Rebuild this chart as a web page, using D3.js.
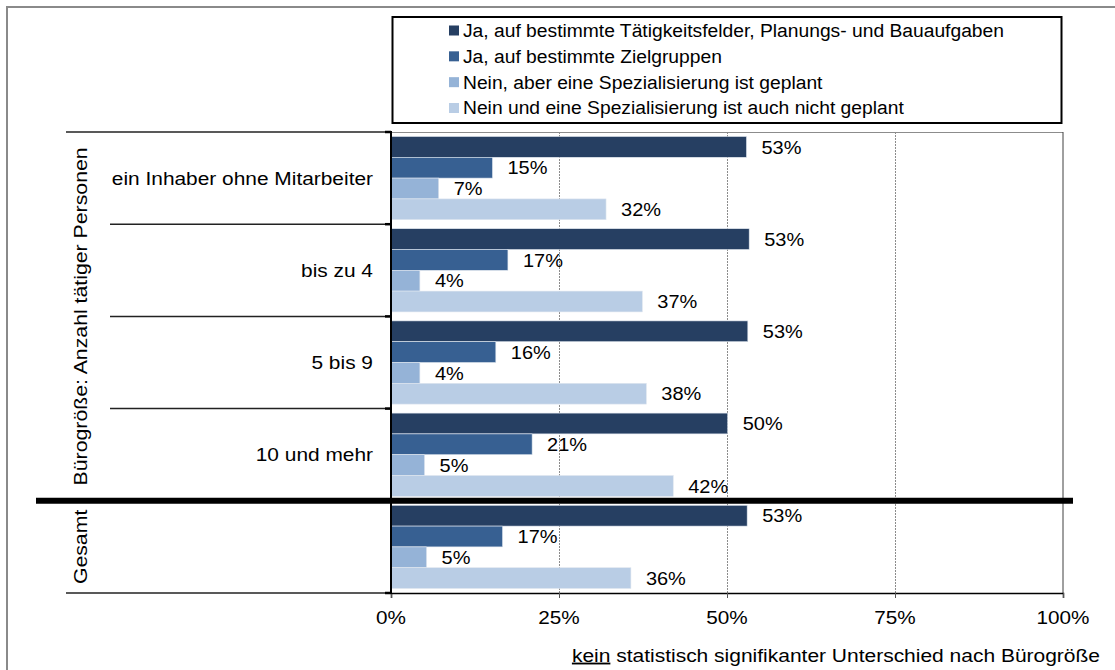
<!DOCTYPE html>
<html><head><meta charset="utf-8">
<script src="https://cdn.jsdelivr.net/npm/d3@7"></script>
<style>
html,body{margin:0;padding:0;background:#fff;}
svg text{font-family:Arial,"Liberation Sans",sans-serif;fill:#000;}
</style></head>
<body>
<svg id="c" width="1115" height="670"></svg>
<script>
const categories = ["ein Inhaber ohne Mitarbeiter", "bis zu 4", "5 bis 9", "10 und mehr", "Gesamt"];
const categoryLabels = ["ein Inhaber ohne Mitarbeiter", "bis zu 4", "5 bis 9", "10 und mehr", ""];
const seriesNames = [
  "Ja, auf bestimmte Tätigkeitsfelder, Planungs- und Bauaufgaben",
  "Ja, auf bestimmte Zielgruppen",
  "Nein, aber eine Spezialisierung ist geplant",
  "Nein und eine Spezialisierung ist auch nicht geplant"
];
const seriesColors = ["#263f62", "#376092", "#95b3d7", "#b9cde5"];
const s1 = [0.529, 0.533, 0.531, 0.501, 0.530];
const s2 = [0.151, 0.174, 0.156, 0.210, 0.166];
const s3 = [0.071, 0.043, 0.043, 0.050, 0.053];
const s4 = [0.320, 0.374, 0.380, 0.420, 0.357];
const seriesValues = [s1, s2, s3, s4];
const xTicks = [0, 0.25, 0.5, 0.75, 1];
const groupTitles = [
  {label: "Bürogröße: Anzahl tätiger Personen", from: 0, to: 3},
  {label: "Gesamt", from: 4, to: 4}
];
const footnoteUnderlined = "kein";
const footnoteRest = " statistisch signifikanter Unterschied nach Bürogröße";

const svg = d3.select("#c");
const L = 391, R = 1063, T = 132, B = 593;
const x = d3.scaleLinear().domain([0, 1]).range([L, R]);
const y = d3.scaleBand().domain(categories).range([T, B]).paddingInner(0).paddingOuter(0);
const bw = y.bandwidth();
const ys = d3.scaleBand().domain(d3.range(4)).range([4.5, bw - 4.5]).padding(0);
const fmt = d3.format(".0%");

// place a horizontally stretched text at (px,py)
function stext(g, px, py, sx, size, anchor, rot) {
  return g.append("text")
    .attr("transform", `translate(${px},${py})${rot ? ` rotate(${rot})` : ""} scale(${sx},1)`)
    .attr("font-size", size).attr("text-anchor", anchor || "start").attr("dy", "0.36em");
}

// outer frame
svg.append("path").attr("d", `M7,670 V7 H1115`).attr("fill", "none").attr("stroke", "#8a8a8a").attr("stroke-width", 2);

// plot area border (top, right)
svg.append("line").attr("x1", L).attr("x2", R).attr("y1", T + 0.5).attr("y2", T + 0.5).attr("stroke", "#8c8c8c").attr("stroke-width", 1);
svg.append("line").attr("x1", R).attr("x2", R).attr("y1", T).attr("y2", B).attr("stroke", "#404040").attr("stroke-width", 1);

// gridlines
svg.append("g").selectAll("line").data(xTicks.slice(1, 4)).join("line")
  .attr("x1", d => Math.round(x(d)) + 0.5).attr("x2", d => Math.round(x(d)) + 0.5)
  .attr("y1", T).attr("y2", B)
  .attr("stroke", "#8c8c8c").attr("stroke-width", 1).attr("stroke-dasharray", "2,1");

// bars
const rows = [];
categories.forEach((c, i) => seriesValues.forEach((vals, s) => rows.push({c, s, v: vals[i]})));
svg.append("g").selectAll("rect").data(rows).join("rect")
  .attr("x", x(0)).attr("y", d => y(d.c) + ys(d.s))
  .attr("width", d => x(d.v) - x(0)).attr("height", ys.bandwidth())
  .attr("fill", d => seriesColors[d.s])
  .attr("stroke", "#dfe6ef").attr("stroke-width", 0.6);

// value labels
const vl = svg.append("g");
rows.forEach(d => {
  stext(vl, x(d.v) + 15, y(d.c) + ys(d.s) + ys.bandwidth() / 2, 1.08, 18.5, "start").text(fmt(d.v));
});

// x axis
const xAxis = d3.axisBottom(x).tickValues(xTicks).tickFormat("").tickSize(5);
const gx = svg.append("g").attr("transform", `translate(0,${B})`).call(xAxis);
gx.select(".domain").attr("stroke", "#000").attr("stroke-width", 1.5);
gx.selectAll(".tick line").attr("stroke", "#555");
const tl = svg.append("g");
xTicks.forEach(t => stext(tl, x(t), 617, 1.12, 18.5, "middle").text(fmt(t)));

// left axis with category boundaries
const boundaries = categories.map(c => y(c)).concat([B]);
svg.append("g").selectAll("line").data(boundaries).join("line")
  .attr("x1", (d, i) => (i === 0 || i === boundaries.length - 1) ? 66 : 110)
  .attr("x2", L).attr("y1", d => d).attr("y2", d => d)
  .attr("stroke", "#222").attr("stroke-width", 1.5);
svg.append("g").selectAll("line").data(boundaries).join("line")
  .attr("x1", L - 6).attr("x2", L).attr("y1", d => d).attr("y2", d => d)
  .attr("stroke", "#000").attr("stroke-width", 2.5);
svg.append("line").attr("x1", L).attr("x2", L).attr("y1", T - 1).attr("y2", B + 1).attr("stroke", "#000").attr("stroke-width", 2);

const cl = svg.append("g");
categories.forEach((c, i) => stext(cl, 373, y(c) + bw / 2, 1.13, 18.5, "end").text(categoryLabels[i]));

// group titles (rotated)
groupTitles.forEach(g => {
  const cy = (y(categories[g.from]) + y(categories[g.to]) + bw) / 2;
  stext(svg, 80, cy, 1.15, 18.5, "middle", -90).text(g.label);
});

// thick separator before Gesamt
svg.append("line").attr("x1", 36).attr("x2", 1073)
  .attr("y1", y(categories[4])).attr("y2", y(categories[4]))
  .attr("stroke", "#000").attr("stroke-width", 6);

// legend
const lg = svg.append("g");
lg.append("rect").attr("x", 392.5).attr("y", 17).attr("width", 669).attr("height", 106)
  .attr("fill", "#fff").attr("stroke", "#000").attr("stroke-width", 2);
const ly = d3.scalePoint().domain(d3.range(4)).range([30.5, 108]);
seriesNames.forEach((n, i) => {
  lg.append("rect").attr("x", 449).attr("y", ly(i) - 5).attr("width", 10).attr("height", 10).attr("fill", seriesColors[i]);
  stext(lg, 463, ly(i), 1.07, 18, "start").text(n);
});

// footnote
const ft = stext(svg, 1100, 655, 1.135, 18.5, "end");
ft.append("tspan").attr("text-decoration", "underline").text(footnoteUnderlined);
ft.append("tspan").text(footnoteRest);
</script>
</body></html>
